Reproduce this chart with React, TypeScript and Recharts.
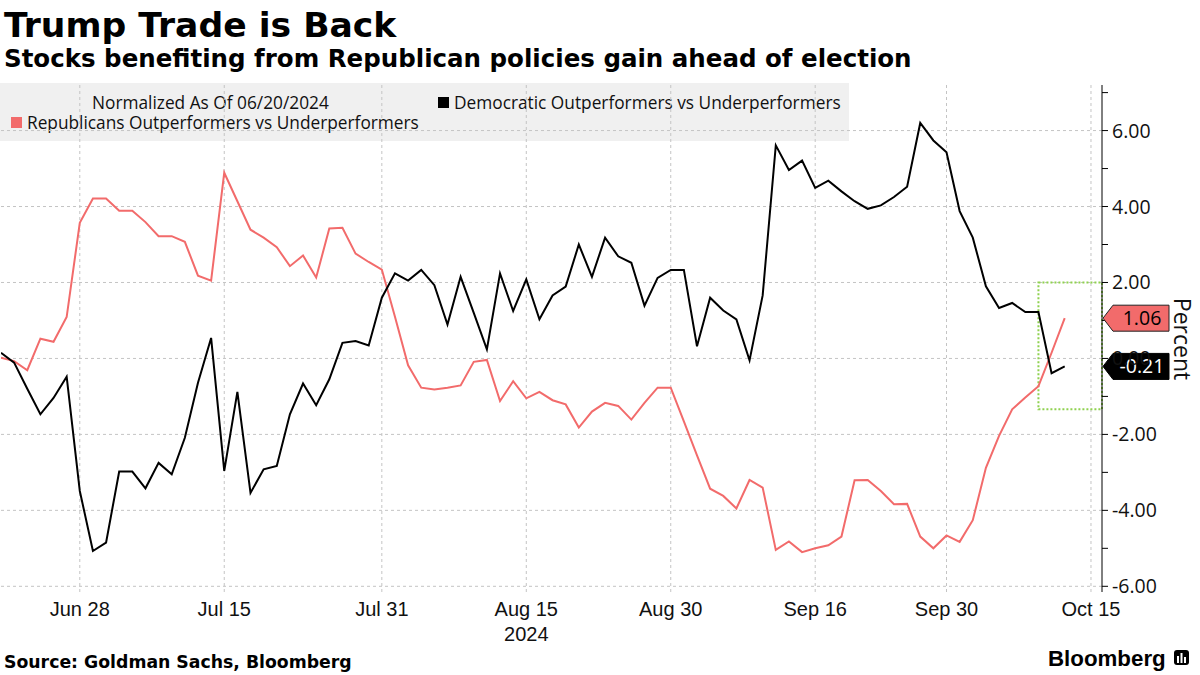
import React from 'react';
import { LineChart, Line, XAxis, YAxis, CartesianGrid, ReferenceArea, ReferenceDot } from 'recharts';

// Weekday dates (2024)
const dates = [
  'Jun 20', 'Jun 21', 'Jun 24', 'Jun 25', 'Jun 26', 'Jun 27', 'Jun 28',
  'Jul 1', 'Jul 2', 'Jul 3', 'Jul 4', 'Jul 5', 'Jul 8', 'Jul 9', 'Jul 10', 'Jul 11', 'Jul 12',
  'Jul 15', 'Jul 16', 'Jul 17', 'Jul 18', 'Jul 19', 'Jul 22', 'Jul 23', 'Jul 24', 'Jul 25', 'Jul 26',
  'Jul 29', 'Jul 30', 'Jul 31', 'Aug 1', 'Aug 2', 'Aug 5', 'Aug 6', 'Aug 7', 'Aug 8', 'Aug 9',
  'Aug 12', 'Aug 13', 'Aug 14', 'Aug 15', 'Aug 16', 'Aug 19', 'Aug 20', 'Aug 21', 'Aug 22', 'Aug 23',
  'Aug 26', 'Aug 27', 'Aug 28', 'Aug 29', 'Aug 30', 'Sep 2', 'Sep 3', 'Sep 4', 'Sep 5', 'Sep 6',
  'Sep 9', 'Sep 10', 'Sep 11', 'Sep 12', 'Sep 13', 'Sep 16', 'Sep 17', 'Sep 18', 'Sep 19', 'Sep 20',
  'Sep 23', 'Sep 24', 'Sep 25', 'Sep 26', 'Sep 27', 'Sep 30', 'Oct 1', 'Oct 2', 'Oct 3', 'Oct 4',
  'Oct 7', 'Oct 8', 'Oct 9', 'Oct 10', 'Oct 11',
];

const republican = [
  0.02, -0.07, -0.31, 0.52, 0.44, 1.09, 3.57,
  4.21, 4.21, 3.89, 3.89, 3.59, 3.22, 3.22, 3.07, 2.18, 2.05,
  4.89, 4.14, 3.39, 3.18, 2.93, 2.43, 2.71, 2.13, 3.42, 3.44,
  2.76, 2.54, 2.34, 1.1, -0.18, -0.77, -0.82, -0.77, -0.71, -0.09,
  -0.04, -1.12, -0.6, -1.05, -0.88, -1.1, -1.21, -1.82, -1.4, -1.17,
  -1.25, -1.61, -1.17, -0.77, -0.77, -1.66, -2.55, -3.43, -3.62, -3.95,
  -3.2, -3.4, -5.04, -4.82, -5.1, -5.0, -4.92, -4.69, -3.21, -3.2,
  -3.49, -3.84, -3.83, -4.69, -5.0, -4.66, -4.83, -4.26, -2.88, -2.04,
  -1.34, -1.03, -0.73, 0.15, 1.06,
];

const democratic = [
  0.15, -0.11, -0.8, -1.47, -1.04, -0.48, -3.49,
  -5.07, -4.85, -2.98, -2.98, -3.42, -2.75, -3.05, -2.09, -0.64, 0.54,
  -2.96, -0.88, -3.54, -2.92, -2.83, -1.47, -0.66, -1.23, -0.55, 0.41,
  0.46, 0.34, 1.6, 2.24, 2.05, 2.33, 1.93, 0.89, 2.15, 1.2,
  0.24, 2.24, 1.25, 2.08, 1.03, 1.66, 1.89, 3.0, 2.15, 3.18,
  2.69, 2.52, 1.39, 2.12, 2.33, 2.33, 0.32, 1.6, 1.26, 1.03,
  -0.05, 1.66, 5.61, 4.96, 5.21, 4.49, 4.68, 4.4, 4.14, 3.94,
  4.03, 4.25, 4.52, 6.2, 5.74, 5.43, 3.88, 3.18, 1.9, 1.33,
  1.46, 1.22, 1.22, -0.39, -0.21,
];

const xTickIndex = [6, 17, 29, 40, 51, 62, 72, 83];
const xTickLabels = ['Jun 28', 'Jul 15', 'Jul 31', 'Aug 15', 'Aug 30', 'Sep 16', 'Sep 30', 'Oct 15'];
const yTicks = [-6, -5, -4, -3, -2, -1, 0, 1, 2, 3, 4, 5, 6, 7];
const yGridValues = [-6, -4, -2, 0, 2, 4, 6];
const highlight = { fromIndex: 79, low: -1.34, high: 2.0 };
const lastRep = 1.06;
const lastDem = -0.21;

const X_MAX = 83.84;
const RED = '#f26b6b';
const FONT = "'Open Sans', 'DejaVu Sans', sans-serif";
const TICKFONT = "'Liberation Sans', sans-serif";

const data = dates.map((d, i) => ({ i, date: d, rep: republican[i], dem: democratic[i] }));

const XTick = (props: any) => {
  const { x, y, payload } = props;
  const k = xTickIndex.indexOf(payload.value);
  return (
    <g>
      <text x={x} y={y} dy={16} textAnchor="middle" fontSize={20} fontFamily={TICKFONT} fill="#111">
        {xTickLabels[k]}
      </text>
      {payload.value === 40 && (
        <text x={x} y={y} dy={41} textAnchor="middle" fontSize={20} fontFamily={TICKFONT} fill="#111">
          2024
        </text>
      )}
    </g>
  );
};

const YTick = (props: any) => {
  const { x, y, payload } = props;
  if (Math.abs(payload.value % 2) === 1) return <g />;
  return (
    <text x={x} y={y} dy={7} textAnchor="start" fontSize={19.5} fontFamily={FONT} fill="#111">
      {payload.value.toFixed(2)}
    </text>
  );
};

const makeTag = (fill: string, textFill: string, label: string, stroke: string) => (props: any) => {
  const { cx, cy } = props;
  const h = 13;
  const pts = `${cx + 1},${cy} ${cx + 11},${cy - h} ${cx + 67},${cy - h} ${cx + 67},${cy + h} ${cx + 11},${cy + h}`;
  return (
    <g>
      <polygon points={pts} fill={fill} stroke={stroke} strokeWidth={1} />
      <text x={cx + 40} y={cy} dy={7} textAnchor="middle" fontSize={19.5} fontFamily={FONT} fill={textFill}>
        {label}
      </text>
    </g>
  );
};

export default function App() {
  return (
    <div style={{ position: 'absolute', left: 0, top: 0, width: 1200, height: 675, background: '#fff', overflow: 'hidden' }}>
      <svg width={1200} height={675} style={{ position: 'absolute', left: 0, top: 0, zIndex: 0 }}>
        <text x={4} y={37} fontSize={34.6} fontWeight="bold" fontFamily="'DejaVu Sans', sans-serif" fill="#000">
          Trump Trade is Back
        </text>
        <text x={4} y={67} fontSize={24.5} fontWeight="bold" fontFamily="'DejaVu Sans', sans-serif" fill="#000">
          Stocks benefiting from Republican policies gain ahead of election
        </text>
        <rect x={0} y={83} width={849} height={58} fill="#f0f0f0" />
        <text x={92} y={109} fontSize={17.3} fontFamily={FONT} fill="#111">Normalized As Of 06/20/2024</text>
        <rect x={438} y={97} width={11} height={11} fill="#000" />
        <text x={454} y={109} fontSize={17.3} fontFamily={FONT} fill="#111">Democratic Outperformers vs Underperformers</text>
        <rect x={11} y={117} width={11} height={11} fill={RED} />
        <text x={27} y={129} fontSize={17.3} fontFamily={FONT} fill="#111">Republicans Outperformers vs Underperformers</text>
        <text x={1174} y={339} fontSize={23} fontFamily={FONT} fill="#111" textAnchor="middle" transform="rotate(90 1174 339)">
          Percent
        </text>
        <text x={4} y={668} fontSize={17.3} fontWeight="bold" fontFamily="'DejaVu Sans', sans-serif" fill="#000">
          Source: Goldman Sachs, Bloomberg
        </text>
        <text x={1048} y={666} fontSize={22.3} fontWeight="bold" fontFamily="'Liberation Sans', sans-serif" fill="#000">
          Bloomberg
        </text>
        <g>
          <rect x={1174} y={650} width={15} height={15} rx={3} fill="#000" />
          <rect x={1177} y={656} width={2} height={7} fill="#fff" />
          <rect x={1180.5} y={653} width={2} height={10} fill="#fff" />
          <rect x={1184} y={657} width={2} height={6} fill="#fff" />
        </g>
      </svg>
      <div style={{ position: 'absolute', left: 0, top: 0, zIndex: 1 }}>
        <LineChart width={1200} height={675} data={data} margin={{ top: 85, right: 1, bottom: 23, left: 1 }}>
          <CartesianGrid
            stroke="#c4c4c4"
            strokeDasharray="3 3"
            horizontalValues={yGridValues}
            verticalValues={xTickIndex}
          />
          <XAxis
            dataKey="i"
            type="number"
            domain={[0, X_MAX]}
            ticks={xTickIndex}
            interval={0}
            axisLine={false}
            tickLine={false}
            height={60}
            tick={<XTick />}
            allowDataOverflow
          />
          <YAxis
            orientation="right"
            type="number"
            domain={[-6.15, 7.2]}
            ticks={yTicks}
            interval={0}
            width={97}
            axisLine={{ stroke: '#000', strokeWidth: 1 }}
            tickLine={{ stroke: '#000', strokeWidth: 1 }}
            tickSize={6}
            tickMargin={4}
            tick={<YTick />}
            allowDataOverflow
          />
          <ReferenceArea
            x1={highlight.fromIndex}
            x2={X_MAX}
            y1={highlight.low}
            y2={highlight.high}
            fill="none"
            fillOpacity={0}
            stroke="#8fd14f"
            strokeWidth={2}
            strokeDasharray="2 2"
            ifOverflow="visible"
          />
          <Line type="linear" dataKey="rep" stroke={RED} strokeWidth={2} dot={false} isAnimationActive={false} />
          <Line type="linear" dataKey="dem" stroke="#000" strokeWidth={2} dot={false} isAnimationActive={false} />
          <ReferenceDot x={X_MAX} y={lastRep} r={0} ifOverflow="visible" shape={makeTag(RED, '#000', lastRep.toFixed(2), '#222')} />
          <ReferenceDot x={X_MAX} y={lastDem} r={0} ifOverflow="visible" shape={makeTag('#000', '#fff', lastDem.toFixed(2), '#000')} />
        </LineChart>
      </div>
    </div>
  );
}
